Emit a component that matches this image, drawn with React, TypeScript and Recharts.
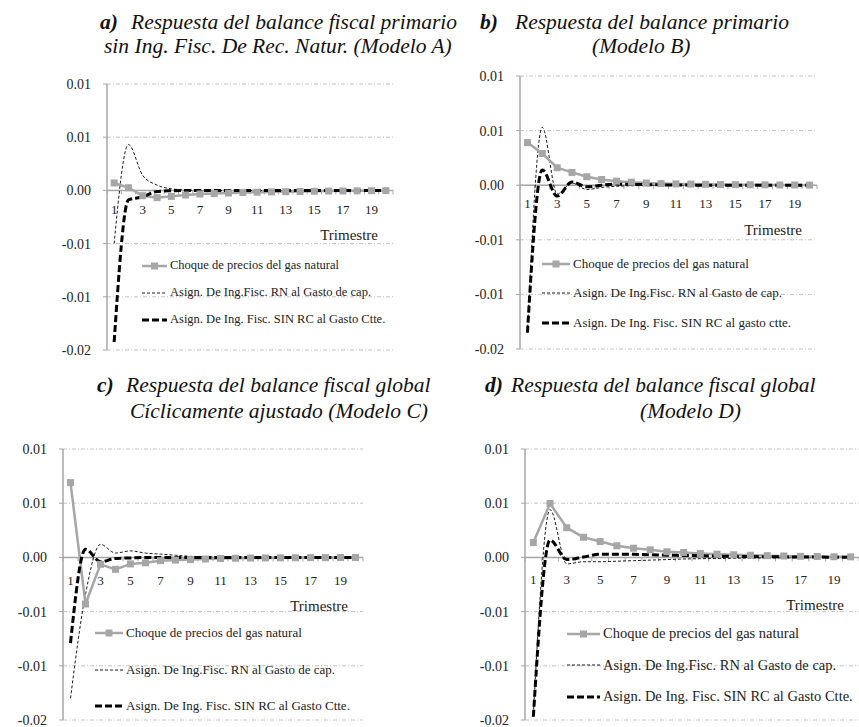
import { LineChart, Line, XAxis, YAxis, CartesianGrid, ReferenceLine, Legend } from "recharts"

const SERIF = '"Liberation Serif", "Tinos", serif'
const GRAY = "#a6a6a6"

const quarters = ["1", "2", "3", "4", "5", "6", "7", "8", "9", "10", "11", "12", "13", "14", "15", "16", "17", "18", "19", "20"]
const yTicks = [0.01, 0.005, 0, -0.005, -0.01, -0.015]
const yTickLabels = ["0.01", "0.01", "0.00", "-0.01", "-0.01", "-0.02"]
const xAxisTitle = "Trimestre"

const nameChoque = "Choque de precios del gas natural"
const nameCap = "Asign. De Ing.Fisc. RN al Gasto de cap."
const nameCtte = "Asign. De Ing. Fisc. SIN RC al Gasto Ctte."
const nameCtteB = "Asign. De Ing. Fisc. SIN RC al gasto ctte."

// Modelo A
const choqueA = [0.0007, 0.00025, -0.0005, -0.00068, -0.00056, -0.00043, -0.00034, -0.0003, -0.00025, -0.0002, -0.00017, -0.00014, -0.00012, -0.0001, -0.00008, -0.00006, -0.00005, -0.00004, -0.00003, -0.00002]
const capA = [-0.005, 0.0043, 0.0014, 0.0005, 0.00015, 0.00005, 0.00002, 0.00001, 0, 0, 0, 0, 0, 0, 0, 0, 0, 0, 0, 0]
const ctteA = [-0.01425, -0.0009, -0.0006, -0.0001, -0.00003, 0, 0, 0, 0, 0, 0, 0, 0, 0, 0, 0, 0, 0, 0, 0]

// Modelo B
const choqueB = [0.0039, 0.0029, 0.0016, 0.00117, 0.00077, 0.00052, 0.00037, 0.00028, 0.0002, 0.00015, 0.00012, 0.0001, 0.00008, 0.00006, 0.00005, 0.00004, 0.00003, 0.00002, 0.00002, 0.00001]
const capB = [-0.0135, 0.0053, -0.0008, 0.0002, -0.0004, -0.0002, -0.0001, -0.00005, -0.00002, 0, 0, 0, 0, 0, 0, 0, 0, 0, 0, 0]
const ctteB = [-0.0135, 0.0014, -0.001, 0.0003, -0.00015, 0, 0.0001, 0.00008, 0.00005, 0.00003, 0.00002, 0.00001, 0, 0, 0, 0, 0, 0, 0, 0]

// Modelo C
const choqueC = [0.0069, -0.0043, -0.00064, -0.0011, -0.0006, -0.0005, -0.0003, -0.00025, -0.0002, -0.00015, -0.0001, -0.00008, -0.00006, -0.00005, -0.00004, -0.00003, -0.00002, -0.00002, -0.00001, -0.00001]
const capC = [-0.013, -0.0034, 0.0012, 0.0004, 0.0006, 0.0004, 0.0003, 0.0002, 0.0001, 0.00005, 0.00003, 0.00002, 0.00001, 0, 0, 0, 0, 0, 0, 0]
const ctteC = [-0.0079, 0.00076, -0.0004, -0.0001, -0.00005, 0, 0, 0, 0, 0, 0, 0, 0, 0, 0, 0, 0, 0, 0, 0]

// Modelo D
const choqueD = [0.00137, 0.00497, 0.00274, 0.00186, 0.00146, 0.00107, 0.00085, 0.0007, 0.00052, 0.00045, 0.00036, 0.0003, 0.00024, 0.0002, 0.00016, 0.00013, 0.0001, 0.00008, 0.00006, 0.00005]
const capD = [-0.0145, 0.0044, -0.0006, -0.0004, -0.0004, -0.00035, -0.0003, -0.00025, -0.0002, -0.00015, -0.00012, -0.0001, -0.00008, -0.00006, -0.00005, -0.00004, -0.00003, -0.00002, -0.00002, -0.00001]
const ctteD = [-0.0147, 0.0016, -0.0002, 0.00003, 0.0003, 0.0003, 0.00028, 0.00025, 0.0002, 0.00018, 0.00015, 0.00012, 0.0001, 0.00008, 0.00006, 0.00005, 0.00004, 0.00003, 0.00002, 0.00002]

const buildRows = (choque: number[], cap: number[], ctte: number[]) =>
  quarters.map((q, i) => ({ q, choque: choque[i], cap: cap[i], ctte: ctte[i] }))

const SquareDot = (p: any) => {
  if (p.cx == null || p.cy == null) return <g key={p.index} />
  return <rect key={p.index} x={p.cx - 3.5} y={p.cy - 3.5} width={7} height={7} fill={GRAY} />
}

function ZeroAxis({ viewBox, labelDy, titleDy }: any) {
  if (!viewBox) return null
  const { x, y, width } = viewBox
  const band = width / quarters.length
  return (
    <g>
      {quarters.map((q, i) => (
        <line key={"t" + q} x1={x + band * i} x2={x + band * i} y1={y} y2={y + 4} stroke={GRAY} strokeWidth={1} />
      ))}
      <line x1={x + width} x2={x + width} y1={y} y2={y + 4} stroke={GRAY} strokeWidth={1} />
      {quarters.map((q, i) =>
        i % 2 === 0 ? (
          <text key={"l" + q} x={x + band * (i + 0.5)} y={y + labelDy} textAnchor="middle" fontSize={13} fontFamily={SERIF} fill="#222">
            {q}
          </text>
        ) : null
      )}
      <text x={x + width - 15} y={y + titleDy} textAnchor="end" fontSize={15} fontFamily={SERIF} fill="#222">
        {xAxisTitle}
      </text>
    </g>
  )
}

function LegendBox({ names, gap, fontSize, sampleW }: any) {
  const samples = [
    <g>
      <line x1={0} x2={sampleW} y1={6} y2={6} stroke={GRAY} strokeWidth={2.5} />
      <rect x={sampleW / 2 - 3.5} y={2.5} width={7} height={7} fill={GRAY} />
    </g>,
    <line x1={0} x2={sampleW} y1={6} y2={6} stroke="#000" strokeWidth={0.9} strokeDasharray="3 2" />,
    <line x1={0} x2={sampleW} y1={6} y2={6} stroke="#000" strokeWidth={3} strokeDasharray="7 3" />,
  ]
  return (
    <div style={{ fontFamily: SERIF, fontSize, color: "#222", whiteSpace: "nowrap" }}>
      {names.map((n: string, i: number) => (
        <div key={n} style={{ display: "flex", alignItems: "center", height: gap }}>
          <svg width={sampleW + 2} height={12} style={{ marginRight: 1 }}>
            {samples[i]}
          </svg>
          <span>{n}</span>
        </div>
      ))}
    </div>
  )
}

function Panel(props: any) {
  const { left, top, width, height, margin, rows, names, legend, labelDy, titleDy } = props
  return (
    <div style={{ position: "absolute", left, top }}>
      <LineChart width={width} height={height} data={rows} margin={margin}>
        <CartesianGrid vertical={false} stroke="#c4c4c4" strokeDasharray="4 2 1 2" />
        <XAxis dataKey="q" hide scale="band" />
        <YAxis
          width={50}
          domain={[-0.015, 0.01]}
          ticks={yTicks}
          interval={0}
          allowDataOverflow
          tickFormatter={(v: number) => yTickLabels[yTicks.indexOf(v)] ?? ""}
          axisLine={{ stroke: GRAY, strokeWidth: 1.5 }}
          tickLine={{ stroke: GRAY }}
          tickSize={4}
          tickMargin={12}
          tick={{ fontSize: 14, fill: "#222", fontFamily: SERIF }}
        />
        <ReferenceLine
          y={0}
          stroke={GRAY}
          strokeWidth={1.5}
          label={(lp: any) => <ZeroAxis viewBox={lp.viewBox} labelDy={labelDy} titleDy={titleDy} />}
        />
        <Line dataKey="cap" name={names[1]} type="monotone" stroke="#000" strokeWidth={0.9} strokeDasharray="3 2" dot={false} isAnimationActive={false} />
        <Line dataKey="choque" name={names[0]} type="linear" stroke={GRAY} strokeWidth={2.5} dot={SquareDot} isAnimationActive={false} />
        <Line dataKey="ctte" name={names[2]} type="monotone" stroke="#000" strokeWidth={3} strokeDasharray="7 3" dot={false} isAnimationActive={false} />
        <Legend
          layout="vertical"
          align="center"
          verticalAlign="middle"
          wrapperStyle={{ left: legend.x, top: legend.y, width: "auto" }}
          content={() => <LegendBox names={names} gap={legend.gap} fontSize={legend.fontSize} sampleW={legend.sampleW} />}
        />
      </LineChart>
    </div>
  )
}

function Title({ x, y, text, bold }: any) {
  return (
    <text x={x} y={y} fontSize={21.5} fontStyle="italic" fontWeight={bold ? "bold" : "normal"} fontFamily={SERIF} fill="#111">
      {text}
    </text>
  )
}

export default function App() {
  const namesStd = [nameChoque, nameCap, nameCtte]
  const namesB = [nameChoque, nameCap, nameCtteB]
  return (
    <div style={{ position: "absolute", left: 0, top: 0, width: 859, height: 727, background: "#fff", overflow: "hidden" }}>
      <svg width={859} height={727} style={{ position: "absolute", left: 0, top: 0 }}>
        <Title x={100} y={29} text="a)" bold />
        <Title x={131} y={29} text="Respuesta del balance fiscal primario" />
        <Title x={104} y={53} text="sin Ing. Fisc. De Rec. Natur. (Modelo A)" />
        <Title x={480} y={29} text="b)" bold />
        <Title x={515} y={29} text="Respuesta del balance primario" />
        <Title x={592} y={53} text="(Modelo B)" />
        <Title x={97} y={392} text="c)" bold />
        <Title x={126} y={392} text="Respuesta del balance fiscal global" />
        <Title x={130} y={418} text="Cíclicamente ajustado (Modelo C)" />
        <Title x={485} y={392} text="d)" bold />
        <Title x={511} y={392} text="Respuesta del balance fiscal global" />
        <Title x={640} y={418} text="(Modelo D)" />
      </svg>
      <Panel
        left={0}
        top={0}
        width={430}
        height={360}
        margin={{ top: 84, right: 37, bottom: 10, left: 57 }}
        rows={buildRows(choqueA, capA, ctteA)}
        names={namesStd}
        legend={{ x: 142, y: 252, gap: 27, fontSize: 12.5, sampleW: 25 }}
        labelDy={24}
        titleDy={50}
      />
      <Panel
        left={430}
        top={0}
        width={429}
        height={360}
        margin={{ top: 76, right: 42, bottom: 11, left: 40 }}
        rows={buildRows(choqueB, capB, ctteB)}
        names={namesB}
        legend={{ x: 112, y: 249, gap: 29.5, fontSize: 13, sampleW: 28 }}
        labelDy={23}
        titleDy={50}
      />
      <Panel
        left={0}
        top={360}
        width={430}
        height={367}
        margin={{ top: 89, right: 67, bottom: 7, left: 13 }}
        rows={buildRows(choqueC, capC, ctteC)}
        names={namesStd}
        legend={{ x: 95, y: 255, gap: 36.5, fontSize: 13, sampleW: 28 }}
        labelDy={28}
        titleDy={54}
      />
      <Panel
        left={430}
        top={360}
        width={429}
        height={367}
        margin={{ top: 89, right: 0, bottom: 7, left: 45 }}
        rows={buildRows(choqueD, capD, ctteD)}
        names={namesStd}
        legend={{ x: 137, y: 258, gap: 31.5, fontSize: 14.5, sampleW: 33 }}
        labelDy={27}
        titleDy={53}
      />
    </div>
  )
}
